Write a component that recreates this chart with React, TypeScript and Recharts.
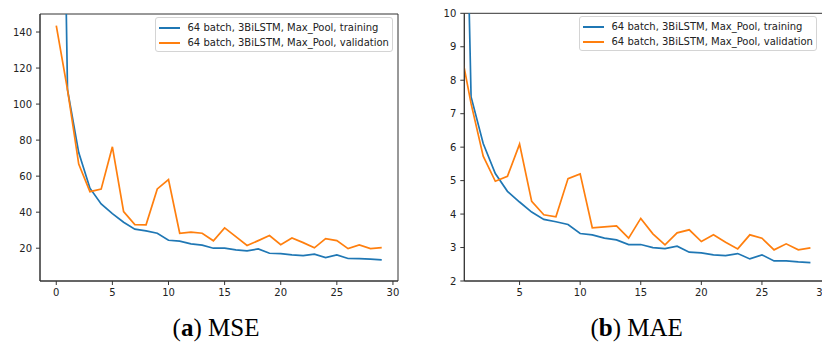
import React from 'react';
import { LineChart, Line, XAxis, YAxis, ReferenceArea } from 'recharts';

const epochs = [0, 1, 2, 3, 4, 5, 6, 7, 8, 9, 10, 11, 12, 13, 14, 15, 16, 17, 18, 19, 20, 21, 22, 23, 24, 25, 26, 27, 28, 29];

const mseTraining = [500, 108, 73.1, 53.3, 44.6, 39.2, 34.4, 30.6, 29.6, 28.3, 24.4, 23.9, 22.4, 21.7, 20, 20, 19.1, 18.5, 19.6, 17.2, 17, 16.3, 15.9, 16.7, 14.8, 16.3, 14.3, 14.2, 13.9, 13.5];
const mseValidation = [143.5, 108, 66.7, 51.4, 52.8, 76.3, 40.3, 33.1, 33, 52.9, 58.1, 28.3, 28.9, 28.3, 24.1, 31.3, 26.4, 21.5, 24.2, 27, 22, 25.7, 23.1, 20.2, 25.3, 24.2, 19.8, 21.8, 19.8, 20.3];

const maeTraining = [24, 7.5, 6.11, 5.21, 4.68, 4.36, 4.06, 3.84, 3.77, 3.69, 3.42, 3.38, 3.28, 3.23, 3.09, 3.09, 3.0, 2.97, 3.04, 2.86, 2.84, 2.78, 2.76, 2.82, 2.66, 2.78, 2.6, 2.6, 2.57, 2.55];
const maeValidation = [9.18, 7.3, 5.73, 4.98, 5.13, 6.09, 4.38, 3.98, 3.92, 5.06, 5.2, 3.59, 3.62, 3.65, 3.28, 3.87, 3.41, 3.08, 3.44, 3.53, 3.18, 3.38, 3.16, 2.96, 3.38, 3.28, 2.93, 3.11, 2.93, 2.99];

const seriesNames = ['64 batch, 3BiLSTM, Max_Pool, training', '64 batch, 3BiLSTM, Max_Pool, validation'];
const seriesColors = ['#1f77b4', '#ff7f0e'];

const mseYTicks = [20, 40, 60, 80, 100, 120, 140];
const maeYTicks = [2, 3, 4, 5, 6, 7, 8, 9, 10];
const mseXTicks = [0, 5, 10, 15, 20, 25, 30];
const maeXTicks = [5, 10, 15, 20, 25, 30];
const captions = [
  { label: 'a', metric: 'MSE' },
  { label: 'b', metric: 'MAE' },
];

const mseData = epochs.map((e, i) => ({ epoch: e, train: mseTraining[i], val: mseValidation[i] }));
const maeData = epochs.map((e, i) => ({ epoch: e, train: maeTraining[i], val: maeValidation[i] }));

const FONT = 'DejaVu Sans';
const tickStyle = { fontFamily: FONT, fontSize: 10, fill: '#222' };
const axisStroke = '#333';

function LegendBox({ left, top }: { left: number; top: number }) {
  return (
    <div
      style={{
        position: 'absolute',
        left,
        top,
        width: 238,
        height: 35,
        boxSizing: 'border-box',
        border: '1px solid #d4d4d4',
        borderRadius: 3,
        background: 'rgba(255,255,255,0.85)',
        fontFamily: FONT,
        fontSize: 10,
        color: '#222',
      }}
    >
      {seriesNames.map((n, i) => (
        <div key={n} style={{ position: 'absolute', left: 0, top: i === 0 ? 9 : 24, width: '100%', height: 0 }}>
          <div style={{ position: 'absolute', left: 3, top: 0, width: 21, height: 2, background: seriesColors[i] }} />
          <div style={{ position: 'absolute', left: 31.5, top: -6, whiteSpace: 'nowrap', lineHeight: '14px' }}>{n}</div>
        </div>
      ))}
    </div>
  );
}

function Chart({ data, xDomain, yDomain, xTicks, yTicks, yWidth, width, marginTop, marginRight }: any) {
  return (
    <LineChart
      width={width}
      height={342}
      data={data}
      margin={{ top: marginTop, right: marginRight, left: 0, bottom: 41 }}
    >
      <XAxis
        dataKey="epoch"
        type="number"
        domain={xDomain}
        ticks={xTicks}
        allowDataOverflow
        interval={0}
        height={20}
        tickSize={4}
        tickMargin={4}
        tick={tickStyle}
        stroke={axisStroke}
        axisLine={{ stroke: axisStroke }}
        tickLine={{ stroke: axisStroke }}
      />
      <YAxis
        type="number"
        domain={yDomain}
        ticks={yTicks}
        allowDataOverflow
        interval={0}
        width={yWidth}
        tickSize={4}
        tickMargin={4}
        tick={tickStyle}
        stroke={axisStroke}
        axisLine={{ stroke: axisStroke }}
        tickLine={{ stroke: axisStroke }}
      />
      <ReferenceArea
        x1={xDomain[0]}
        x2={xDomain[1]}
        y1={yDomain[0]}
        y2={yDomain[1]}
        fill="none"
        fillOpacity={0}
        stroke={axisStroke}
        strokeWidth={1}
        ifOverflow="visible"
      />
      <Line dataKey="train" name={seriesNames[0]} stroke={seriesColors[0]} strokeWidth={1.7} dot={false} isAnimationActive={false} />
      <Line dataKey="val" name={seriesNames[1]} stroke={seriesColors[1]} strokeWidth={1.7} dot={false} isAnimationActive={false} />
    </LineChart>
  );
}

export default function App() {
  return (
    <div style={{ position: 'fixed', left: 0, top: 0, width: 822, height: 342, overflow: 'hidden', background: '#fff' }}>
      <div style={{ position: 'absolute', left: 0, top: 0 }}>
        <Chart data={mseData} xDomain={[-1.45, 30.45]} yDomain={[1.8, 150]} xTicks={mseXTicks} yTicks={mseYTicks} yWidth={40} width={410} marginTop={14} marginRight={12} />
      </div>
      <div style={{ position: 'absolute', left: 412, top: 0 }}>
        <Chart data={maeData} xDomain={[0.44, 30.45]} yDomain={[2, 10]} xTicks={maeXTicks} yTicks={maeYTicks} yWidth={52.3} width={420} marginTop={13.3} marginRight={4} />
      </div>
      <LegendBox left={155} top={17} />
      <LegendBox left={579} top={16} />
      <svg width={822} height={342} style={{ position: 'absolute', left: 0, top: 0, pointerEvents: 'none' }}>
        {captions.map((c, i) => (
          <text key={c.label} x={i === 0 ? 216 : 636.7} y={336} textAnchor="middle" fontFamily="Liberation Serif" fontSize={25} fill="#000">
            (<tspan fontWeight="bold">{c.label}</tspan>) {c.metric}
          </text>
        ))}
      </svg>
    </div>
  );
}
